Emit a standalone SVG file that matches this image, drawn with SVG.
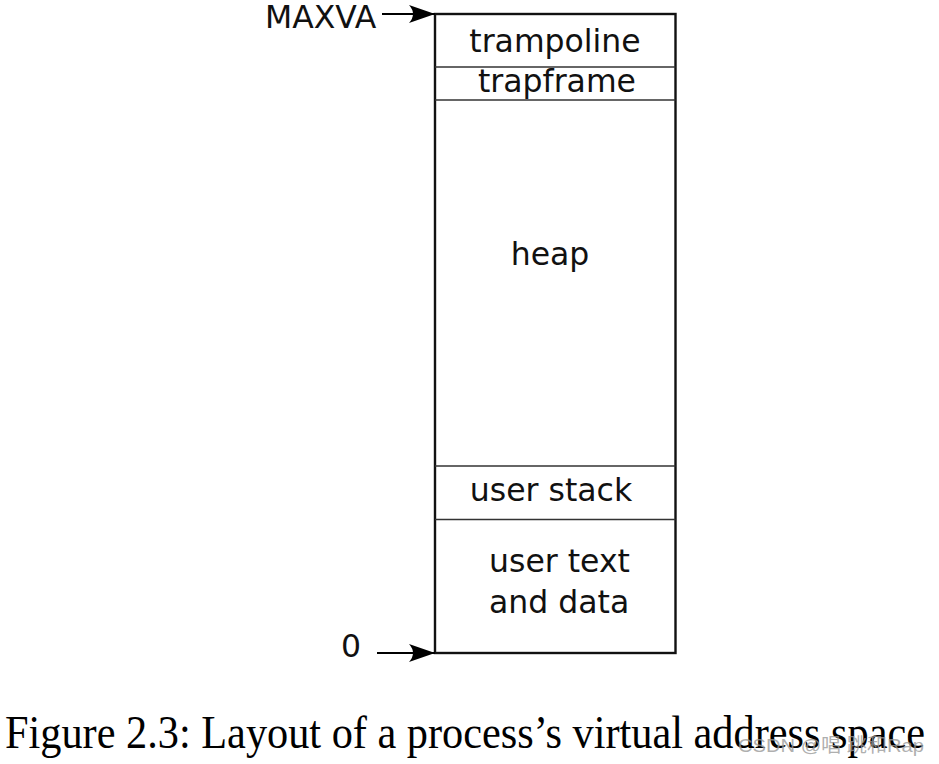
<svg xmlns="http://www.w3.org/2000/svg" width="939" height="764" viewBox="0 0 939 764">
<style>
.lbl{font-family:"DejaVu Sans",sans-serif;font-size:31.5px;fill:#111}
.cap{font-family:"Liberation Serif",serif;font-size:46px;fill:#000}
.sep{stroke:#333;stroke-width:1.6;fill:none}
.conn{stroke:#000;stroke-width:2;fill:none}
</style>
<defs>
<marker id="ah" viewBox="0 0 26 18" refX="26" refY="9" markerWidth="26" markerHeight="18" markerUnits="userSpaceOnUse" orient="auto">
<path d="M0,0 L26,9 L0,18 Q8,9 0,0 Z" fill="#000"/>
</marker>
</defs>
<rect width="939" height="764" fill="#fff"/>
<g id="memory">
<rect x="435" y="14" width="240.5" height="639" fill="#fff" stroke="#111" stroke-width="2.4"/>
</g>
<g id="trampoline">
<line class="sep" x1="435" y1="67" x2="675.5" y2="67"/>
<text class="lbl" x="555" y="52" text-anchor="middle">trampoline</text>
</g>
<g id="trapframe">
<line class="sep" x1="435" y1="100" x2="675.5" y2="100"/>
<text class="lbl" x="557" y="92" text-anchor="middle">trapframe</text>
</g>
<g id="heap">
<text class="lbl" x="550" y="265" text-anchor="middle">heap</text>
</g>
<g id="userstack">
<line class="sep" x1="435" y1="466" x2="675.5" y2="466"/>
<text class="lbl" x="551" y="501" text-anchor="middle">user stack</text>
</g>
<g id="usertext">
<line class="sep" x1="435" y1="519.5" x2="675.5" y2="519.5"/>
<text class="lbl" x="489" y="572">user text</text>
<text class="lbl" x="489" y="613">and data</text>
</g>
<g id="maxva">
<text class="lbl" x="265" y="28">MAXVA</text>
</g>
<g id="zero">
<text class="lbl" x="341" y="657">0</text>
</g>
<g id="connectors">
<line class="conn" x1="382" y1="14" x2="435" y2="14" marker-end="url(#ah)"/>
<line class="conn" x1="377" y1="653" x2="435" y2="653" marker-end="url(#ah)"/>
</g>
<g id="caption">
<text class="cap" x="5" y="748" textLength="920" lengthAdjust="spacingAndGlyphs">Figure 2.3: Layout of a process’s virtual address space</text>
<text x="738" y="752" font-family="'Liberation Sans','Noto Sans CJK SC',sans-serif" font-size="19" fill="#999" fill-opacity="0.8" textLength="186" lengthAdjust="spacingAndGlyphs">CSDN @唱 跳和Rap</text>
</g>
</svg>
